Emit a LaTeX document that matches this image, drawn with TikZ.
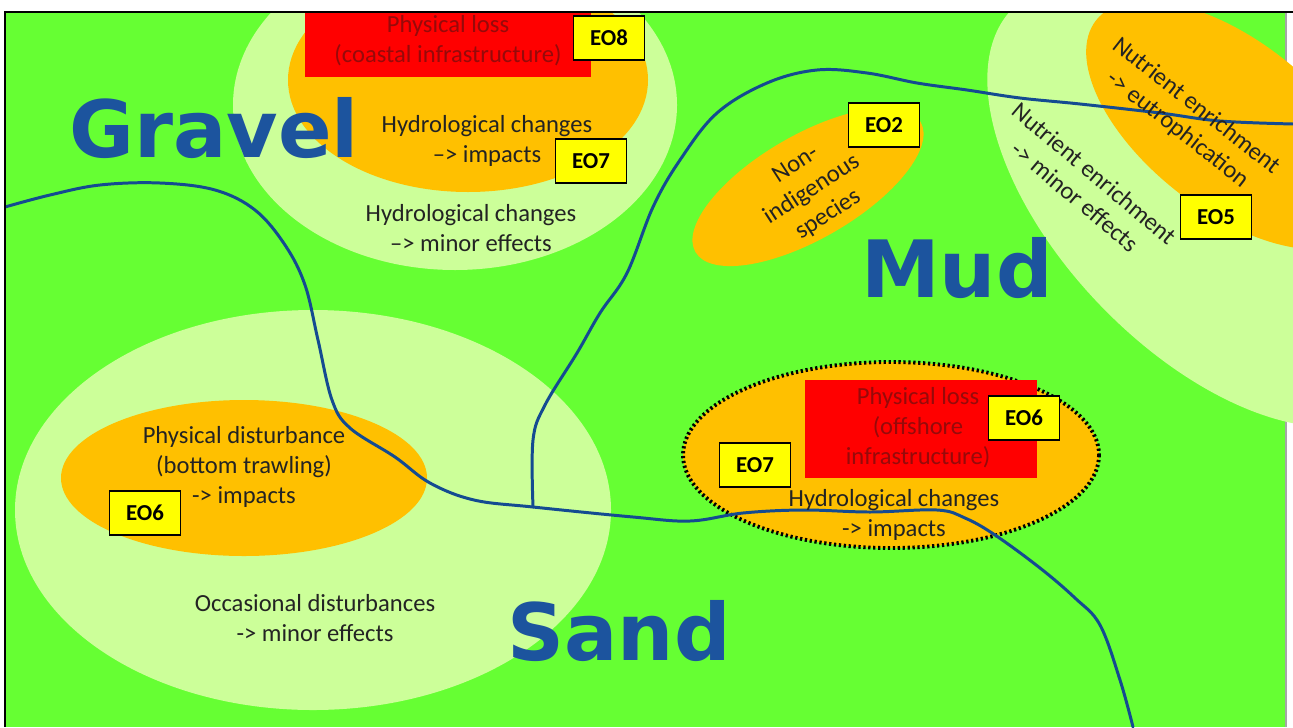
\documentclass[tikz,border=0pt]{standalone}
\usepackage{fontspec}
\setmainfont{Carlito}
\newfontfamily\zonefont{DejaVu Sans}

\definecolor{seagreen}{RGB}{102,255,51}
\definecolor{palegreen}{RGB}{204,255,153}
\definecolor{pressorange}{RGB}{255,192,0}
\definecolor{lossred}{RGB}{255,0,0}
\definecolor{losstext}{RGB}{150,10,10}
\definecolor{eoyellow}{RGB}{255,255,0}
\definecolor{zoneblue}{RGB}{28,84,158}
\definecolor{lineblue}{RGB}{20,75,145}
\definecolor{textgray}{RGB}{35,35,35}

\begin{document}
\begin{tikzpicture}[x=0.02cm, y=-0.02cm,
  zone/.style={font=\zonefont\bfseries\fontsize{45}{50}\selectfont, text=zoneblue, anchor=base, inner sep=0pt},
  effect/.style={align=center, font=\fontsize{14}{17}\selectfont, text=textgray, inner sep=1pt},
  losslabel/.style={align=center, font=\fontsize{14}{17}\selectfont, text=losstext, inner sep=1pt},
  eobox/.style={draw, line width=1pt, fill=eoyellow, font=\bfseries\fontsize{13}{15}\selectfont, minimum width=1.42cm, minimum height=0.88cm, inner sep=0pt},
  boundary/.style={draw=lineblue, line width=1.7pt, line cap=round}
]
\useasboundingbox (0,0) rectangle (1293,727);

% Background and frame
\fill[white] (0,0) rectangle (1293,727);
\fill[seagreen] (5,12) rectangle (1286,727);
\draw[gray!70, line width=1.2pt] (1286,12) -- (1286,727);

\begin{scope}
\clip (5,12) rectangle (1293,727);

% Pressure zones (light = minor effects, orange = impacts)
\fill[palegreen] (455,105) ellipse [x radius=222, y radius=165];
\fill[pressorange] (468,80) ellipse [x radius=180, y radius=112];
\fill[lossred] (305,0) rectangle (591,77);

\fill[palegreen, rotate around={-46:(1205,205)}] (1205,205) ellipse [x radius=275, y radius=145];
\fill[pressorange, rotate around={-38:(1230,125)}] (1230,125) ellipse [x radius=170, y radius=85];

\fill[pressorange, rotate around={30:(808,187)}] (808,187) ellipse [x radius=130, y radius=52];

\fill[palegreen] (313,510) ellipse [x radius=298, y radius=200];
\fill[pressorange] (244,478) ellipse [x radius=183, y radius=78];

\fill[pressorange] (891,455) ellipse [x radius=208, y radius=93];
\draw[line width=2.2pt, dash pattern=on 1.3pt off 1.5pt] (891,455) ellipse [x radius=208, y radius=93];
\fill[lossred] (805,380) rectangle (1037,478);

% Habitat boundaries
\coordinate (junction) at (533,507);
\draw[boundary] plot[smooth, tension=0.6] coordinates {(5,207) (50,195) (100,185) (160,183) (215,190) (255,210) (285,245) (305,285) (318,340) (332,400) (350,428) (395,457) (430,483) (474,500) (junction) (633,517) (690,521) (743,513) (803,510) (870,512) (937,510) (965,518) (995,535) (1040,568) (1075,598) (1100,625) (1120,680) (1133,727)};
\draw[boundary] plot[smooth, tension=0.6] coordinates {(junction) (533,440) (545,405) (577,353) (600,313) (627,273) (653,207) (680,160) (717,113) (767,83) (817,70) (867,73) (917,83) (967,90) (1020,98) (1080,104) (1160,113) (1220,121) (1293,124)};
\end{scope}

\draw[line width=1.5pt] (1293,12) -- (5,12) -- (5,727);

% Habitat names
\node[zone] (gravel) at (214,157) {Gravel};
\node[zone] (mud) at (957,297) {Mud};
\node[zone] (sand) at (619,660) {Sand};

% Gravel zone
\node[losslabel] (coastloss) at (448,41) {Physical loss\\(coastal infrastructure)};
\node[eobox] (eo8) at (609,38) {EO8};
\node[effect] (hydroimp) at (487,141) {Hydrological changes\\--{}> impacts};
\node[eobox] (eo7a) at (591,161) {EO7};
\node[effect] (hydrominor) at (471,228) {Hydrological changes\\--{}> minor effects};

% Mud zone
\node[effect, rotate=33] (nis) at (812,190) {Non-\\indigenous\\species};
\node[eobox] (eo2) at (884,125) {EO2};
\node[effect, rotate=-38] (nutreu) at (1187,118) {Nutrient enrichment\\-> eutrophication};
\node[effect, rotate=-40] (nutrmin) at (1085,185) {Nutrient enrichment\\-> minor effects};
\node[eobox] (eo5) at (1216,217) {EO5};

% Offshore zone
\node[losslabel] (offloss) at (918,428) {Physical loss\\(offshore\\infrastructure)};
\node[eobox] (eo6a) at (1024,418) {EO6};
\node[eobox] (eo7b) at (755,465) {EO7};
\node[effect] (hydroimpoff) at (894,515) {Hydrological changes\\-> impacts};

% Sand zone
\node[effect] (trawl) at (244,467) {Physical disturbance\\(bottom trawling)\\-> impacts};
\node[eobox] (eo6b) at (145,513) {EO6};
\node[effect] (occdist) at (315,618) {Occasional disturbances\\-> minor effects};

\end{tikzpicture}
\end{document}
